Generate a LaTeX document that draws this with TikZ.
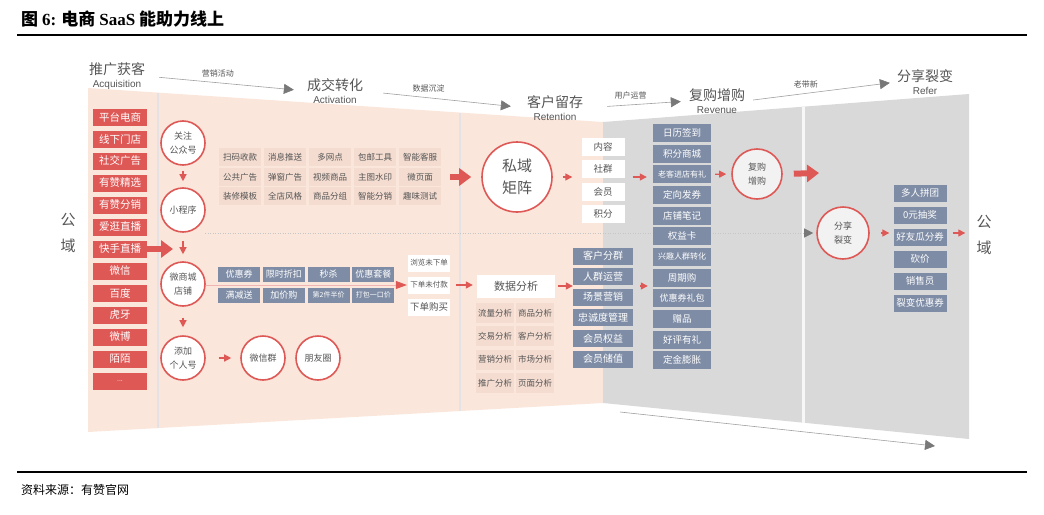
\documentclass[tikz,border=0pt]{standalone}
\usepackage{fontspec}
\setmainfont{Noto Sans CJK SC}
\newfontfamily\latinsans{Liberation Sans}
\newfontfamily\latinserif{Liberation Serif}
\usepackage{tikz}
\usetikzlibrary{arrows.meta}

\definecolor{redc}{RGB}{222,88,86}
\definecolor{pinkbg}{RGB}{250,230,218}
\definecolor{greybg}{RGB}{217,217,217}
\definecolor{bluec}{RGB}{126,140,165}
\definecolor{textc}{RGB}{85,85,85}
\definecolor{cellc}{RGB}{244,220,208}
\definecolor{flowc}{RGB}{160,160,160}
\definecolor{tipc}{RGB}{120,120,120}
\definecolor{divc}{RGB}{228,226,228}
\definecolor{ringg}{RGB}{242,242,242}

\newcommand{\fsz}[1]{\fontsize{#1}{#1}\selectfont}

\begin{document}
\begin{tikzpicture}[x=1pt,y=-1pt]
  \tikzstyle{srcbox}=[fill=redc,text=white,minimum width=54pt,minimum height=17pt,inner sep=0pt,font=\fsz{10.5}]
  \tikzstyle{ring}=[circle,draw=redc,line width=1.6pt,fill=white,minimum size=44pt,inner sep=0pt,align=center,text=textc,font=\fsz{9}]
  \tikzstyle{cell}=[fill=cellc,minimum width=42pt,minimum height=18pt,inner sep=0pt,text=textc,font=\fsz{8.5}]
  \tikzstyle{acell}=[cell,minimum width=38pt,minimum height=20pt]
  \tikzstyle{tag}=[fill=bluec,text=white,minimum width=42pt,minimum height=15pt,inner sep=0pt,font=\fsz{9}]
  \tikzstyle{wbox}=[fill=white,text=textc,minimum width=42pt,minimum height=17pt,inner sep=0pt,font=\fsz{9}]
  \tikzstyle{stage}=[align=center,inner sep=0pt,text=textc]
  \tikzstyle{gongyu}=[align=center,inner sep=0pt,text=textc,font=\fsz{15}]
  \tikzstyle{flow}=[draw=flowc,line width=0.6pt,-{Triangle[length=10pt,width=10pt,color=tipc]}]
  \tikzstyle{flowlabel}=[above=5pt,inner sep=0pt,text=textc,font=\fsz{8}]
  \tikzstyle{bigarrow}=[draw=redc,line width=6pt,-{Triangle[length=12pt,width=17pt]}]
  \tikzstyle{smallarrow}=[draw=redc,line width=1.3pt,-{Triangle[length=7pt,width=7pt]}]
  \tikzstyle{thinred}=[draw=redc!45,line width=0.6pt,-{Triangle[length=11pt,width=8pt,color=redc]}]
  \tikzstyle{dotline}=[draw=gray!45,line width=0.6pt,dash pattern=on 1pt off 1.5pt,-{Triangle[length=9pt,width=9pt,color=tipc]}]

  \useasboundingbox (0,0) rectangle (1044,514);

  % title and source
  \node[anchor=west,inner sep=0pt,font=\fsz{17}\bfseries] (title) at (21,19) {图 {\latinserif 6:} 电商 {\latinserif SaaS} 能助力线上};
  \draw[line width=1.2pt] (17,35) -- (1027,35);
  \draw[line width=1.2pt] (17,472) -- (1027,472);
  \node[anchor=west,inner sep=0pt,font=\fsz{12}] (source) at (21,490) {资料来源：有赞官网};

  % walls
  \fill[pinkbg] (88,88) -- (603,122) -- (603,403) -- (88,432) -- cycle;
  \fill[greybg] (603,122) -- (969,94) -- (969,439) -- (603,403) -- cycle;
  \draw[divc,line width=2.5pt] (158,93) -- (158,428);
  \draw[divc,line width=2.5pt] (460,113) -- (460,411);
  \draw[white!80!greybg,line width=3pt] (803,107) -- (803,423);

  % stages
  \node[stage] (acq) at (117,76) {\fsz{14}推广获客\\[1pt]\latinsans\fsz{10}Acquisition};
  \node[stage] (act) at (335,91) {\fsz{14}成交转化\\[1pt]\latinsans\fsz{10}Activation};
  \node[stage] (ret) at (555,108) {\fsz{14}客户留存\\[1pt]\latinsans\fsz{10}Retention};
  \node[stage] (rev) at (717,101) {\fsz{14}复购增购\\[1pt]\latinsans\fsz{10}Revenue};
  \node[stage] (ref) at (925,82) {\fsz{14}分享裂变\\[1pt]\latinsans\fsz{10}Refer};

  \draw[flow,shorten <=14pt,shorten >=13pt] (acq.east) -- node[flowlabel,pos=.45] {营销活动} (act.west);
  \draw[flow,shorten <=20pt,shorten >=16pt] (act.east) -- node[flowlabel,pos=.4] {数据沉淀} (ret.west);
  \draw[flow,shorten <=24pt,shorten >=8pt] (ret.east) -- node[flowlabel,pos=.45] {用户运营} (rev.west);
  \draw[flow,shorten <=8pt,shorten >=7pt] (rev.east) -- node[flowlabel,pos=.4] {老带新} (ref.west);

  % public domain
  \node[gongyu] (gyL) at (68,233) {公\\[11pt]域};
  \node[gongyu] (gyR) at (984,235) {公\\[11pt]域};

  % sources
  \foreach \t [count=\i] in {平台电商,线下门店,社交广告,有赞精选,有赞分销,爱逛直播,快手直播,微信,百度,虎牙,微博,陌陌}
    \node[srcbox] (s\i) at (120,{95+22*\i}) {\t};
  \node[srcbox,font=\fsz{7}] (s13) at (120,381) {...};
  \coordinate (hub) at (173,249);
  \draw[bigarrow] (s7.east) -- (hub);

  % refer circle and the dotted path to it
  \coordinate (dstart) at (205,233);
  \node[ring,fill=ringg,minimum size=52pt] (sh) at (843,233) {分享\\[5pt]裂变};
  \draw[dotline,shorten >=3pt] (dstart) -- (sh.west);

  % activation
  \node[ring] (c1) at (183,143) {关注\\[5pt]公众号};
  \node[ring] (c2) at (183,210) {小程序};
  \node[ring] (c3) at (183,284) {微商城\\[5pt]店铺};
  \node[ring] (c4) at (183,358) {添加\\[5pt]个人号};
  \node[ring] (c5) at (263,358) {微信群};
  \node[ring] (c6) at (318,358) {朋友圈};
  \draw[smallarrow,shorten <=5pt,shorten >=6pt] (c1) -- (c2);
  \draw[smallarrow,shorten <=8pt,shorten >=7pt] (c2) -- (c3);
  \draw[smallarrow,shorten <=11pt,shorten >=8pt] (c3) -- (c4);
  \draw[smallarrow,shorten <=13pt,shorten >=9pt] (c4) -- (c5);

  \foreach \t [count=\i] in {扫码收款,消息推送,多网点,包邮工具,智能客服}
    \node[cell] (g1\i) at ({195+45*\i},157) {\t};
  \foreach \t [count=\i] in {公共广告,弹窗广告,视频商品,主图水印,微页面}
    \node[cell] (g2\i) at ({195+45*\i},177) {\t};
  \foreach \t [count=\i] in {装修模板,全店风格,商品分组,智能分销,趣味测试}
    \node[cell] (g3\i) at ({195+45*\i},196) {\t};

  \node[wbox,font=\fsz{7.5}] (o1) at (429,263) {浏览未下单};
  \node[wbox,font=\fsz{7.5}] (o2) at (429,285) {下单未付款};
  \node[wbox,font=\fsz{9.5}] (o3) at (429,307) {下单购买};
  \draw[thinred,shorten >=1pt] (o2.west -| c3.east) -- (o2.west);
  \foreach \t [count=\i] in {优惠券,限时折扣,秒杀,优惠套餐}
    \node[tag] (p1\i) at ({194.5+44.7*\i},274) {\t};
  \foreach \t/\f [count=\i] in {满减送/9,加价购/9,第2件半价/7,打包一口价/7}
    \node[tag,font=\fsz{\f}] (p2\i) at ({194.5+44.7*\i},295) {\t};

  % retention
  \node[ring,minimum size=70pt,font=\fsz{15}] (pm) at (517,177) {私域\\[7pt]矩阵};
  \draw[bigarrow,shorten <=9pt,shorten >=10pt] (g25.east) -- (pm.west);
  \foreach \t [count=\i] in {内容,社群,会员,积分}
    \node[wbox,minimum width=43pt,minimum height=18pt,font=\fsz{9.5}] (k\i) at (603,{124.7+22.3*\i}) {\t};
  \draw[smallarrow,shorten <=10pt,shorten >=9pt] (pm.east) -- (pm.east -| k2.west);

  \node[wbox,minimum width=78pt,minimum height=23pt,font=\fsz{11}] (da) at (516,286) {数据分析};
  \draw[smallarrow,shorten <=6pt,shorten >=4pt] (o2.east) -- (o2.east -| da.west);
  \foreach \a/\b [count=\i] in {流量分析/商品分析,交易分析/客户分析,营销分析/市场分析,推广分析/页面分析} {
    \node[acell] (a\i1) at (495,{289.7+23.3*\i}) {\a};
    \node[acell] (a\i2) at (535,{289.7+23.3*\i}) {\b};
  }
  \foreach \t [count=\i] in {客户分群,人群运营,场景营销,忠诚度管理,会员权益,会员储值}
    \node[tag,minimum width=60pt,minimum height=17pt,font=\fsz{10}] (b\i) at (603,{235.4+20.6*\i}) {\t};
  \draw[smallarrow,shorten <=3pt] (da.east) -- (da.east -| b1.west);

  % revenue
  \foreach \t/\f [count=\i] in {日历签到/9.5,积分商城/9.5,老客进店有礼/8,定向发券/9.5,店铺笔记/9.5,权益卡/9.5,兴趣人群转化/8,周期购/9.5,优惠券礼包/9,赠品/9.5,好评有礼/9.5,定金膨胀/9.5}
    \node[tag,minimum width=58pt,minimum height=18pt,font=\fsz{\f}] (r\i) at (682,{112.35+20.65*\i}) {\t};
  \draw[smallarrow,shorten <=8pt,shorten >=6pt] (pm.east -| k2.east) -- (pm.east -| r3.west);
  \draw[smallarrow,shorten <=7pt,shorten >=5pt] (da.east -| b1.east) -- (da.east -| r1.west);
  \node[ring,fill=ringg,minimum size=50pt] (rb) at (757,174) {复购\\[5pt]增购};
  \draw[smallarrow,shorten <=4pt,shorten >=5pt] (r3.east) -- (rb.west);
  \coordinate (refin) at (819,173);
  \draw[bigarrow,shorten <=11pt] (rb.east) -- (refin);

  % refer
  \foreach \t [count=\i] in {多人拼团,0元抽奖,好友瓜分券,砍价,销售员,裂变优惠券}
    \node[tag,minimum width=53pt,minimum height=17pt,font=\fsz{9.5}] (f\i) at (920,{171+22*\i}) {\t};
  \draw[smallarrow,shorten <=11pt,shorten >=4pt] (sh.east) -- (sh.east -| f3.west);
  \draw[smallarrow,shorten <=6pt,shorten >=11pt] (sh.east -| f3.east) -- (sh.east -| gyR.west);

  \coordinate (bot0) at (620,412);
  \coordinate (bot1) at (935,446);
  \draw[flow] (bot0) -- (bot1);
\end{tikzpicture}
\end{document}
